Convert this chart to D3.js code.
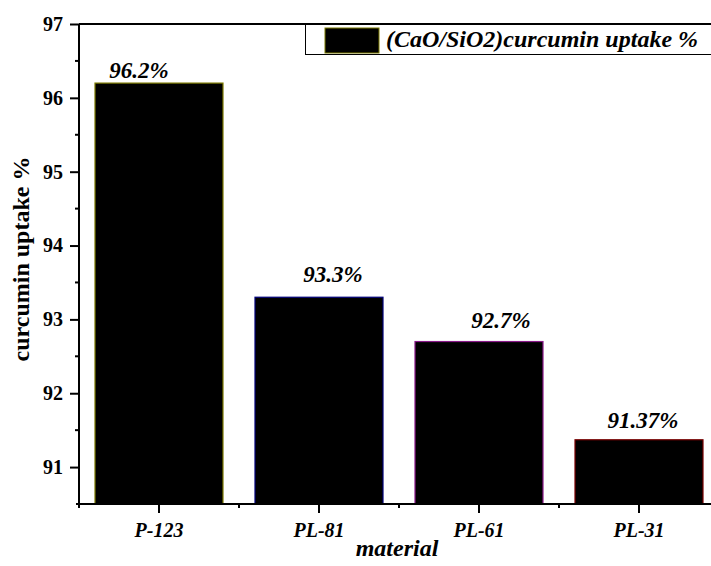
<!DOCTYPE html>
<html>
<head>
<meta charset="utf-8">
<script src="https://cdn.jsdelivr.net/npm/d3@7"></script>
<style>
  html, body { margin: 0; padding: 0; background: #fff; }
  svg { display: block; }
  text { font-family: "Liberation Serif", "Times New Roman", serif; font-weight: bold; fill: #000; }
</style>
</head>
<body>
<svg id="chart" width="711" height="566"></svg>
<script>
// Curcumin uptake by CaO/SiO2 materials prepared with different templates
const materials = ["P-123", "PL-81", "PL-61", "PL-31"];
const uptake = [96.2, 93.3, 92.7, 91.37];
const valueLabels = ["96.2%", "93.3%", "92.7%", "91.37%"];
const yTicks = [91, 92, 93, 94, 95, 96, 97];
const seriesName = "(CaO/SiO2)curcumin uptake %";

// bar outline colours and hand-placed label nudges (layout only)
const outlineColors = ["#7d7a00", "#00007a", "#8a1a8a", "#7a0000"];
const labelDx = [-20, 14, 22, 4];
const labelDy = [-5, -15, -14, -12];

const svg = d3.select("#chart");
const plotL = 79, plotR = 719, plotT = 24, plotB = 504;

const x = d3.scaleBand().domain(materials).range([plotL, plotR]).padding(0);
const y = d3.scaleLinear().domain([90.5, 97]).range([plotB, plotT]);

// bars
const barW = x.bandwidth() * 0.8;
svg.append("g").selectAll("rect")
  .data(materials)
  .join("rect")
  .attr("x", (d) => x(d) + (x.bandwidth() - barW) / 2)
  .attr("y", (d, i) => y(uptake[i]))
  .attr("width", barW)
  .attr("height", (d, i) => y(90.5) - y(uptake[i]))
  .attr("fill", "#000")
  .attr("stroke", (d, i) => outlineColors[i])
  .attr("stroke-width", 1.2);

// value labels
svg.append("g").selectAll("text")
  .data(materials)
  .join("text")
  .attr("x", (d, i) => x(d) + x.bandwidth() / 2 + labelDx[i])
  .attr("y", (d, i) => y(uptake[i]) + labelDy[i])
  .attr("text-anchor", "middle")
  .style("font-style", "italic")
  .style("font-size", "23px")
  .text((d, i) => valueLabels[i]);

// y axis (major ticks + minor halves)
const yAxis = svg.append("g").attr("transform", `translate(${plotL},0)`)
  .call(d3.axisLeft(y).tickValues(yTicks).tickSize(9).tickPadding(7).tickFormat(d3.format("d")));
yAxis.attr("font-family", null);
yAxis.select(".domain").attr("stroke-width", 2).attr("d", `M0,${plotB}V${plotT}`);
yAxis.selectAll(".tick line").attr("stroke-width", 2);
yAxis.selectAll(".tick text").style("font-size", "20px")
  .style("font-family", "'Liberation Serif', serif").style("font-weight", "bold");
svg.append("g").selectAll("line")
  .data(yTicks.map((t) => t - 0.5).filter((t) => t > 90.5))
  .join("line")
  .attr("x1", plotL - 4).attr("x2", plotL)
  .attr("y1", (d) => y(d)).attr("y2", (d) => y(d))
  .attr("stroke", "#000").attr("stroke-width", 2);

// x axis
const xAxis = svg.append("g").attr("transform", `translate(0,${plotB})`)
  .call(d3.axisBottom(x).tickSize(9).tickPadding(10));
xAxis.attr("font-family", null);
xAxis.select(".domain").attr("stroke-width", 2).attr("d", `M${plotL - 3},0H${plotR}`);
xAxis.selectAll(".tick line").attr("stroke-width", 2);
xAxis.selectAll(".tick text").style("font-size", "20px").style("font-style", "italic")
  .style("font-family", "'Liberation Serif', serif").style("font-weight", "bold");
// minor ticks on category boundaries
svg.append("g").selectAll("line")
  .data(materials.map((d) => x(d)))
  .join("line")
  .attr("x1", (d) => d).attr("x2", (d) => d)
  .attr("y1", plotB).attr("y2", plotB + 4)
  .attr("stroke", "#000").attr("stroke-width", 2);

// axis titles
svg.append("text")
  .attr("x", (plotL + plotR) / 2 - 2).attr("y", 556)
  .attr("text-anchor", "middle")
  .style("font-style", "italic").style("font-size", "24px")
  .text("material");
svg.append("text")
  .attr("transform", `translate(29,${(plotT + plotB) / 2 - 5}) rotate(-90)`)
  .attr("text-anchor", "middle")
  .style("font-size", "24px")
  .text("curcumin uptake %");

// legend
const legend = svg.append("g");
legend.append("rect").attr("x", 305.5).attr("y", 24.5).attr("width", 420).attr("height", 30)
  .attr("fill", "#fff").attr("stroke", "#000").attr("stroke-width", 1);
legend.append("rect").attr("x", 325).attr("y", 28).attr("width", 54).attr("height", 25)
  .attr("fill", "#000").attr("stroke", outlineColors[0]).attr("stroke-width", 1);
legend.append("text").attr("x", 386).attr("y", 47)
  .style("font-style", "italic").style("font-size", "24px")
  .text(seriesName);

// top frame edge
svg.append("line").attr("x1", plotL).attr("x2", plotR).attr("y1", plotT).attr("y2", plotT)
  .attr("stroke", "#000").attr("stroke-width", 2);
</script>
</body>
</html>
